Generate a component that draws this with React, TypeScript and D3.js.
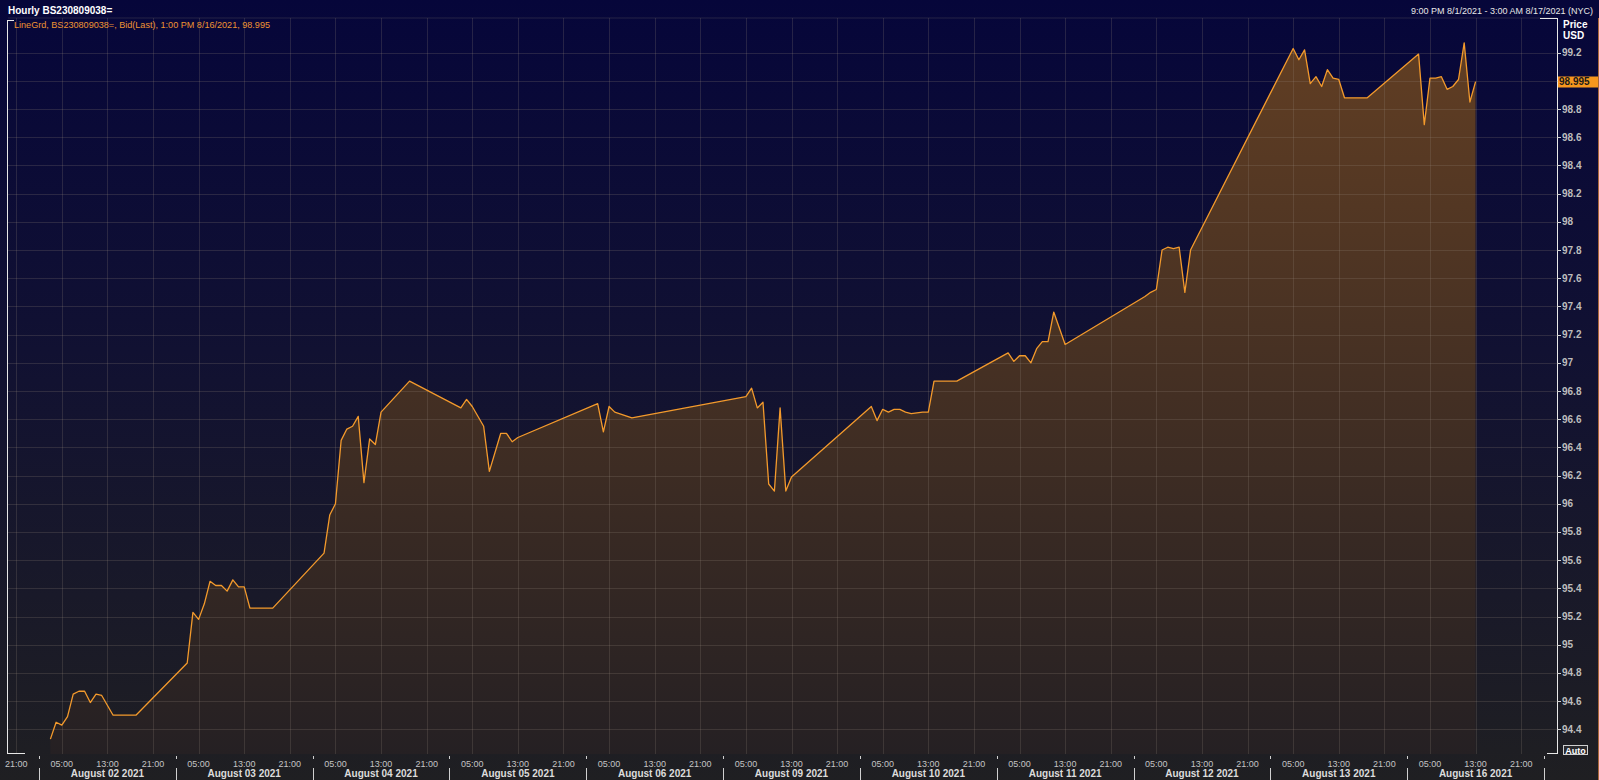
import React from "react";
import * as d3 from "d3";

// ---------- data ----------
const dayKeys = ["08-01", "08-02", "08-03", "08-04", "08-05", "08-06", "08-09", "08-10", "08-11", "08-12", "08-13", "08-16", "08-17"];
const dayLabels = ["August 02 2021", "August 03 2021", "August 04 2021", "August 05 2021", "August 06 2021", "August 09 2021", "August 10 2021", "August 11 2021", "August 12 2021", "August 13 2021", "August 16 2021"];
const hourTickLabels = ["05:00", "13:00", "21:00"];
const yTickLabels = ["94.4", "94.6", "94.8", "95", "95.2", "95.4", "95.6", "95.8", "96", "96.2", "96.4", "96.6", "96.8", "97", "97.2", "97.4", "97.6", "97.8", "98", "98.2", "98.4", "98.6", "98.8", "99", "99.2"];

const bidTimes = [
  "08-02 03:00", "08-02 04:00", "08-02 05:00", "08-02 06:00", "08-02 07:00", "08-02 08:00", "08-02 09:00", "08-02 10:00", "08-02 11:00", "08-02 12:00", "08-02 14:00", "08-02 18:00",
  "08-03 03:00", "08-03 04:00", "08-03 05:00", "08-03 06:00", "08-03 07:00", "08-03 08:00", "08-03 09:00", "08-03 10:00", "08-03 11:00", "08-03 12:00", "08-03 13:00", "08-03 14:00", "08-03 18:00",
  "08-04 03:00", "08-04 04:00", "08-04 05:00", "08-04 06:00", "08-04 07:00", "08-04 08:00", "08-04 09:00", "08-04 10:00", "08-04 11:00", "08-04 12:00", "08-04 13:00", "08-04 18:00",
  "08-05 03:00", "08-05 04:00", "08-05 05:00", "08-05 07:00", "08-05 08:00", "08-05 10:00", "08-05 11:00", "08-05 12:00", "08-05 13:00",
  "08-06 03:00", "08-06 04:00", "08-06 05:00", "08-06 06:00", "08-06 09:00",
  "08-09 05:00", "08-09 06:00", "08-09 07:00", "08-09 08:00", "08-09 09:00", "08-09 10:00", "08-09 11:00", "08-09 12:00", "08-09 13:00",
  "08-10 03:00", "08-10 04:00", "08-10 05:00", "08-10 06:00", "08-10 07:00", "08-10 08:00", "08-10 09:00", "08-10 10:00", "08-10 12:00", "08-10 13:00", "08-10 14:00", "08-10 18:00",
  "08-11 03:00", "08-11 04:00", "08-11 05:00", "08-11 06:00", "08-11 07:00", "08-11 08:00", "08-11 09:00", "08-11 10:00", "08-11 11:00", "08-11 13:00",
  "08-12 03:00", "08-12 04:00", "08-12 05:00", "08-12 06:00", "08-12 07:00", "08-12 08:00", "08-12 09:00", "08-12 10:00", "08-12 11:00",
  "08-13 05:00", "08-13 06:00", "08-13 07:00", "08-13 08:00", "08-13 09:00", "08-13 10:00", "08-13 11:00", "08-13 12:00", "08-13 13:00", "08-13 14:00", "08-13 18:00",
  "08-16 03:00", "08-16 04:00", "08-16 05:00", "08-16 06:00", "08-16 07:00", "08-16 08:00", "08-16 09:00", "08-16 10:00", "08-16 11:00", "08-16 12:00", "08-16 13:00",
];
const bidValues = [
  94.33, 94.45, 94.43, 94.49, 94.65, 94.67, 94.67, 94.59, 94.65, 94.64, 94.5, 94.5,
  94.87, 95.23, 95.18, 95.29, 95.45, 95.42, 95.42, 95.38, 95.46, 95.41, 95.41, 95.26, 95.26,
  95.65, 95.92, 96.0, 96.45, 96.53, 96.55, 96.62, 96.15, 96.46, 96.42, 96.65, 96.87,
  96.68, 96.74, 96.69, 96.55, 96.23, 96.5, 96.5, 96.44, 96.47,
  96.71, 96.51, 96.69, 96.65, 96.61,
  96.76, 96.82, 96.68, 96.72, 96.14, 96.09, 96.68, 96.09, 96.19,
  96.69, 96.59, 96.67, 96.65, 96.67, 96.67, 96.65, 96.64, 96.65, 96.65, 96.87, 96.87,
  97.07, 97.01, 97.05, 97.05, 97.0, 97.1, 97.15, 97.15, 97.36, 97.13,
  97.47, 97.5, 97.52, 97.8, 97.82, 97.81, 97.82, 97.5, 97.8,
  99.23, 99.15, 99.22, 98.98, 99.03, 98.96, 99.08, 99.02, 99.01, 98.88, 98.88,
  99.19, 98.69, 99.02, 99.02, 99.03, 98.94, 98.96, 99.01, 99.27, 98.85, 98.995,
];

const titleText = "Hourly BS230809038=";
const rangeText = "9:00 PM 8/1/2021 - 3:00 AM 8/17/2021 (NYC)";
const legendText = "LineGrd, BS230809038=, Bid(Last),  1:00 PM 8/16/2021, 98.995";
const lastValueText = "98.995";

// ---------- layout ----------
const W = 1599;
const H = 780;
const PL = 8, PR = 1557, PT = 18, PB = 754;
const SEP_OFFSET = 1;

const toT = (s: string) => {
  const [day, time] = s.split(" ");
  const idx = dayKeys.indexOf(day);
  const hour = parseInt(time.split(":")[0], 10);
  return idx * 24 + hour;
};

const x = d3.scaleLinear().domain([25, 289]).range([39, 1544]);
const y = d3.scaleLinear().domain([94.4, 99.2]).range([729.3, 52.7]);

const points = bidTimes.map((t, i) => ({ t: toT(t), v: bidValues[i] }));

const line = d3.line<{ t: number; v: number }>().x((d) => x(d.t)).y((d) => y(d.v));
const area = d3.area<{ t: number; v: number }>().x((d) => x(d.t)).y0(PB).y1((d) => y(d.v));

const FONT = "'Liberation Sans', Arial, sans-serif";
const GRID = "rgba(150,138,125,0.22)";

export default function App() {
  const tMin = x.invert(PL);
  const tMax = x.invert(PR);
  const hourTicks: { t: number; label: string }[] = [];
  for (let d = 0; d < dayKeys.length; d++) {
    [5, 13, 21].forEach((h, i) => {
      const t = d * 24 + h;
      if (t > tMin && t < tMax) hourTicks.push({ t, label: hourTickLabels[i] });
    });
  }
  const seps = d3.range(1, dayKeys.length).map((d) => d * 24 + SEP_OFFSET);
  const lastY = y(bidValues[bidValues.length - 1]);

  return (
    <svg width={W} height={H} style={{ position: "absolute", left: 0, top: 0, display: "block" }} fontFamily={FONT}>
      <defs>
        <linearGradient id="bg" x1="0" y1="0" x2="0" y2={H} gradientUnits="userSpaceOnUse">
          <stop offset="0" stopColor="#06063a" />
          <stop offset="0.45" stopColor="#111132" />
          <stop offset="1" stopColor="#1f1f22" />
        </linearGradient>
        <linearGradient id="fill" x1="0" y1="40" x2="0" y2={PB} gradientUnits="userSpaceOnUse">
          <stop offset="0" stopColor="#613e23" />
          <stop offset="1" stopColor="#252023" />
        </linearGradient>
      </defs>
      <rect x={0} y={0} width={W} height={H} fill="url(#bg)" />

      {/* area */}
      <path d={area(points) || ""} fill="url(#fill)" />

      {/* grid */}
      <line x1={PL} x2={PR} y1={PT} y2={PT} stroke={GRID} />
      {yTickLabels.map((l) => (
        <line key={"gy" + l} x1={PL} x2={PR} y1={Math.round(y(+l)) + 0.5} y2={Math.round(y(+l)) + 0.5} stroke={GRID} />
      ))}
      {hourTicks.map((h) => (
        <line key={"gx" + h.t} x1={Math.round(x(h.t)) + 0.5} x2={Math.round(x(h.t)) + 0.5} y1={PT} y2={PB} stroke={GRID} />
      ))}

      {/* line */}
      <path d={line(points) || ""} fill="none" stroke="#f39a2c" strokeWidth={1.3} strokeLinejoin="round" />

      {/* frame brackets */}
      <line x1={7.5} x2={7.5} y1={20} y2={PB} stroke="#e8e8e8" />
      <line x1={7.5} x2={14} y1={20.5} y2={20.5} stroke="#e8e8e8" />
      <line x1={7.5} x2={25} y1={PB - 0.5} y2={PB - 0.5} stroke="#e8e8e8" />
      <line x1={PR + 0.5} x2={PR + 0.5} y1={PT} y2={PB} stroke="#e8e8e8" />
      <line x1={1540} x2={PR + 0.5} y1={PT + 0.5} y2={PT + 0.5} stroke="#e8e8e8" />
      <line x1={1547} x2={PR + 0.5} y1={PB - 0.5} y2={PB - 0.5} stroke="#e8e8e8" />

      {/* title */}
      <text x={8} y={14} fill="#ffffff" fontSize={10} fontWeight="bold">{titleText}</text>
      <text x={1593} y={14} fill="#e6e6e6" fontSize={9} textAnchor="end">{rangeText}</text>
      <text x={14} y={28} fill="#ee9432" fontSize={9} textLength={256} lengthAdjust="spacingAndGlyphs">{legendText}</text>

      {/* y axis */}
      <text x={1563} y={27.5} fill="#ffffff" fontSize={10} fontWeight="bold">Price</text>
      <text x={1563} y={39} fill="#ffffff" fontSize={10} fontWeight="bold">USD</text>
      {yTickLabels.map((l) => {
        const ty = y(+l);
        const hidden = Math.abs(ty - lastY) < 9;
        return (
          <g key={"yl" + l}>
            <line x1={PR} x2={PR + 4} y1={Math.round(ty) + 0.5} y2={Math.round(ty) + 0.5} stroke="#d0d0d0" />
            {!hidden && (
              <text x={1562} y={ty} dy="0.35em" fill="#bdbdbd" fontSize={10} fontWeight="bold">{l}</text>
            )}
          </g>
        );
      })}
      <rect x={1558} y={76.5} width={41} height={11} fill="#f7971e" />
      <text x={1559} y={lastY} dy="0.36em" fill="#1a1a1a" fontSize={10} fontWeight="bold">{lastValueText}</text>

      {/* auto button */}
      <rect x={1563.5} y={745.5} width={24} height={9} fill="#2a2a2e" stroke="#cfcfcf" />
      <text x={1575.5} y={753.5} fill="#ffffff" fontSize={9} fontWeight="bold" textAnchor="middle">Auto</text>

      {/* x axis */}
      {hourTicks.map((h) => (
        <text key={"hl" + h.t} x={x(h.t)} y={766.5} fill="#c4c4c4" fontSize={9} textAnchor="middle">{h.label}</text>
      ))}
      {seps.map((t) => (
        <g key={"sep" + t}>
          <line x1={Math.round(x(t)) + 0.5} x2={Math.round(x(t)) + 0.5} y1={756} y2={759} stroke="#d0d0d0" />
          <line x1={Math.round(x(t)) + 0.5} x2={Math.round(x(t)) + 0.5} y1={768} y2={H} stroke="#d0d0d0" />
        </g>
      ))}
      {dayLabels.map((l, i) => (
        <text key={"dl" + l} x={(x(seps[i]) + x(seps[i + 1])) / 2} y={777} fill="#dcdcdc" fontSize={10} fontWeight="bold" textAnchor="middle">{l}</text>
      ))}

      {/* right edge */}
      <line x1={1598.5} x2={1598.5} y1={PT} y2={H} stroke="#a8673a" />
    </svg>
  );
}
